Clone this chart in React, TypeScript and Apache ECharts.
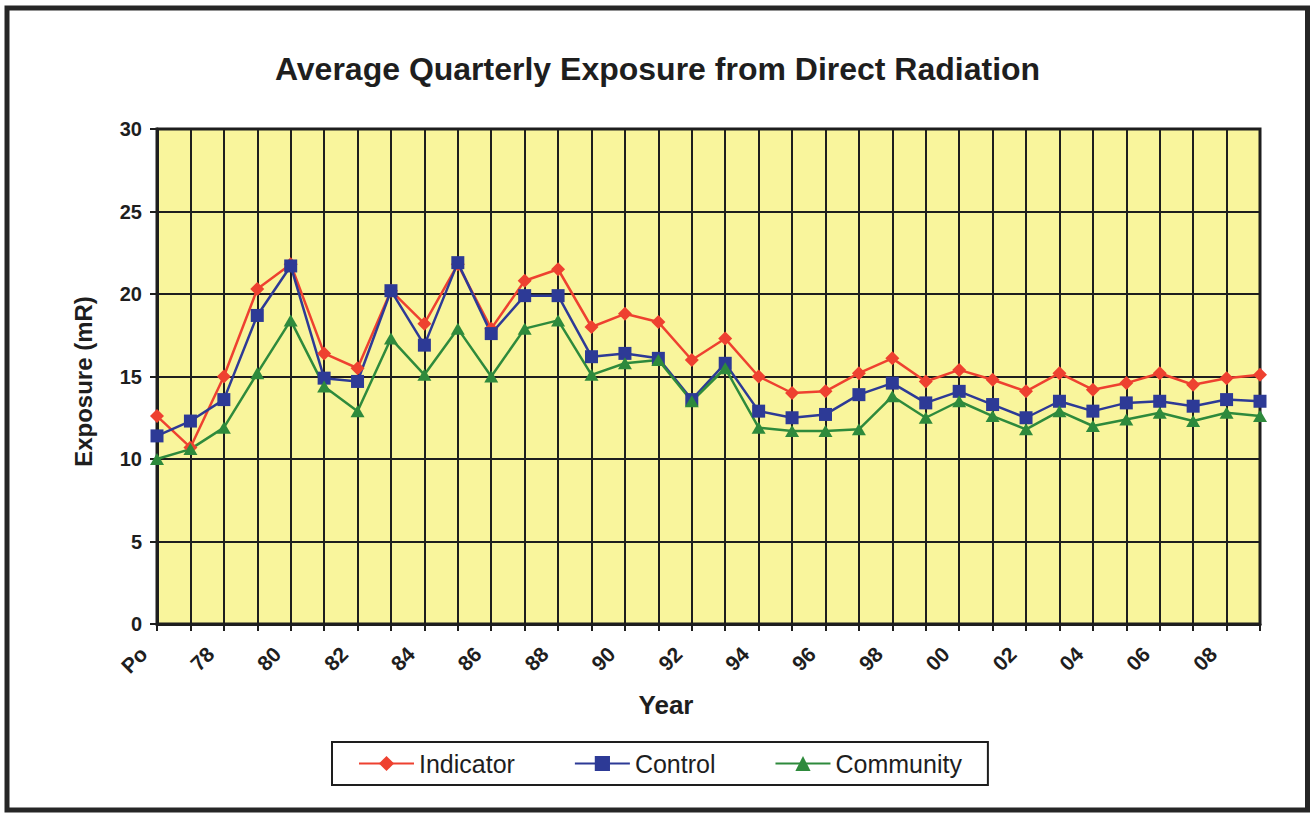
import React, { useEffect, useRef } from 'react';
import * as echarts from 'echarts';

const years = ['Po', '77', '78', '79', '80', '81', '82', '83', '84', '85', '86', '87', '88', '89', '90', '91', '92', '93', '94', '95', '96', '97', '98', '99', '00', '01', '02', '03', '04', '05', '06', '07', '08', '09'];

const indicator = [12.6, 10.7, 15.0, 20.3, 21.8, 16.4, 15.5, 20.2, 18.2, 21.8, 17.9, 20.8, 21.5, 18.0, 18.8, 18.3, 16.0, 17.3, 15.0, 14.0, 14.1, 15.2, 16.1, 14.7, 15.4, 14.8, 14.1, 15.2, 14.2, 14.6, 15.2, 14.5, 14.9, 15.1];
const control = [11.4, 12.3, 13.6, 18.7, 21.7, 14.9, 14.7, 20.2, 16.9, 21.9, 17.6, 19.9, 19.9, 16.2, 16.4, 16.1, 13.6, 15.8, 12.9, 12.5, 12.7, 13.9, 14.6, 13.4, 14.1, 13.3, 12.5, 13.5, 12.9, 13.4, 13.5, 13.2, 13.6, 13.5];
const community = [10.0, 10.6, 11.9, 15.2, 18.4, 14.4, 12.9, 17.3, 15.1, 17.9, 15.0, 17.9, 18.4, 15.1, 15.8, 16.0, 13.5, 15.5, 11.9, 11.7, 11.7, 11.8, 13.8, 12.5, 13.5, 12.6, 11.8, 12.9, 12.0, 12.4, 12.8, 12.3, 12.8, 12.6];

const seriesNames = ['Indicator', 'Control', 'Community'];

const FONT = '"Liberation Sans", Arial, Helvetica, sans-serif';
const INK = '#1e1e1e';
const RED = '#EE4130';
const BLUE = '#2D3A96';
const GREEN = '#2E8A3C';

export default function App() {
  const ref = useRef<HTMLDivElement>(null);
  useEffect(() => {
    const chart = echarts.init(ref.current as HTMLDivElement, null, { renderer: 'svg' });
    chart.setOption({
      animation: false,
      backgroundColor: '#ffffff',
      title: {
        text: 'Average Quarterly Exposure from Direct Radiation',
        left: 'center',
        top: 48,
        textStyle: { fontFamily: FONT, fontSize: 32, fontWeight: 'bold', color: INK },
      },
      graphic: [
        {
          type: 'rect',
          silent: true,
          shape: { x: 7, y: 8, width: 1300.5, height: 802 },
          style: { fill: 'none', stroke: '#262626', lineWidth: 5 },
        },
      ],
      grid: {
        left: 157,
        top: 129,
        right: 55,
        bottom: 189,
        show: true,
        backgroundColor: '#F9F59C',
        borderColor: INK,
        borderWidth: 3,
        containLabel: false,
      },
      legend: {
        data: seriesNames,
        left: 332,
        top: 742,
        orient: 'horizontal',
        padding: [9, 26, 9, 26],
        itemGap: 59,
        itemWidth: 55,
        itemHeight: 19,
        borderColor: INK,
        borderWidth: 2,
        textStyle: { fontFamily: FONT, fontSize: 25, color: INK },
      },
      xAxis: {
        type: 'category',
        data: years,
        boundaryGap: false,
        name: 'Year',
        nameLocation: 'middle',
        nameGap: 68,
        nameTextStyle: { fontFamily: FONT, fontSize: 26, fontWeight: 'bold', color: INK, padding: [0, 85, 0, 0] },
        axisLine: { show: true, lineStyle: { color: INK, width: 3 } },
        axisTick: { show: true, interval: 0, length: 7, inside: false, lineStyle: { color: INK, width: 2 } },
        axisLabel: {
          interval: 1,
          rotate: 45,
          margin: 13,
          padding: [0, 19, 38, 0],
          fontFamily: FONT,
          fontSize: 21,
          fontWeight: 'bold',
          color: INK,
        },
        splitLine: { show: true, interval: 0, lineStyle: { color: INK, width: 2 } },
      },
      yAxis: {
        type: 'value',
        min: 0,
        max: 30,
        interval: 5,
        name: 'Exposure (mR)',
        nameLocation: 'middle',
        nameGap: 62,
        nameTextStyle: { fontFamily: FONT, fontSize: 24, fontWeight: 'bold', color: INK, padding: [0, 10, 0, 0] },
        axisLine: { show: true, lineStyle: { color: INK, width: 3 } },
        axisTick: { show: true, length: 7, inside: false, lineStyle: { color: INK, width: 2 } },
        axisLabel: { margin: 15, fontFamily: FONT, fontSize: 20, fontWeight: 'bold', color: INK },
        splitLine: { show: true, lineStyle: { color: INK, width: 2 } },
      },
      series: [
        {
          name: seriesNames[0],
          type: 'line',
          data: indicator,
          symbol: 'diamond',
          symbolSize: 14,
          lineStyle: { color: RED, width: 2.5 },
          itemStyle: { color: RED },
        },
        {
          name: seriesNames[1],
          type: 'line',
          data: control,
          symbol: 'rect',
          symbolSize: 13,
          lineStyle: { color: BLUE, width: 2.5 },
          itemStyle: { color: BLUE },
        },
        {
          name: seriesNames[2],
          type: 'line',
          data: community,
          symbol: 'triangle',
          symbolSize: [14, 12],
          lineStyle: { color: GREEN, width: 2.5 },
          itemStyle: { color: GREEN },
        },
      ],
    });
    return () => chart.dispose();
  }, []);
  return (
    <div
      ref={ref}
      style={{ position: 'fixed', left: 0, top: 0, width: 1315, height: 813, background: '#ffffff' }}
    />
  );
}
